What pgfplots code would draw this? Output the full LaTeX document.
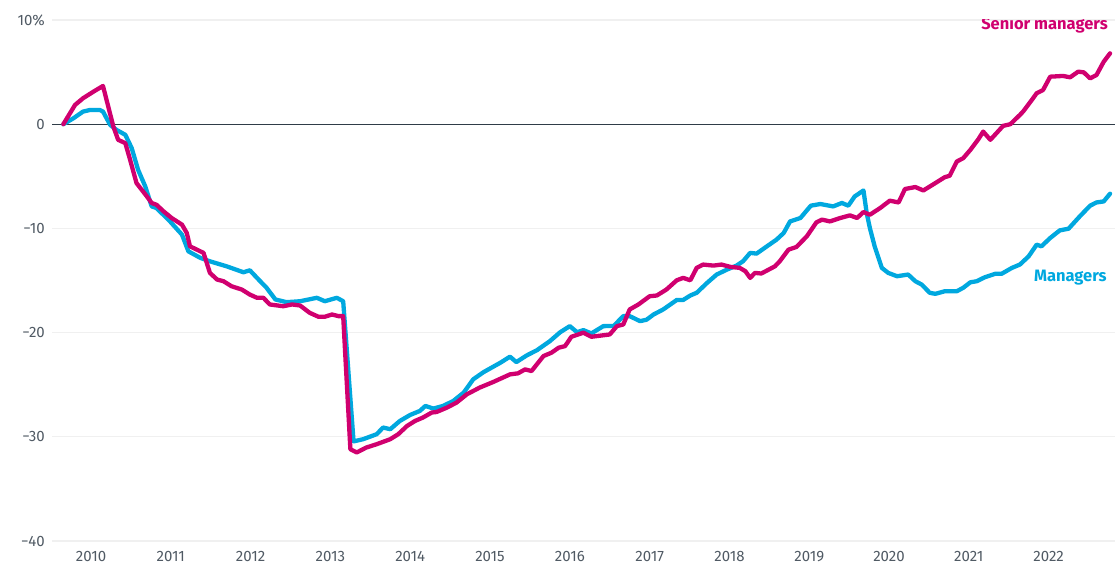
\documentclass[border=0pt]{standalone}
\usepackage{pgfplots}
\pgfplotsset{compat=1.18}
\usepackage{fontspec}
\setmainfont{Fira Sans}
\definecolor{senior}{HTML}{D0006F}
\definecolor{mgr}{HTML}{00A8DF}
\definecolor{zeroline}{HTML}{2F3C48}
\definecolor{gridc}{HTML}{F0F0F0}
\definecolor{tickc}{HTML}{505A64}
\begin{document}
\begin{tikzpicture}
\begin{axis}[
  name=ax,
  scale only axis, width=1063pt, height=521pt,
  xmin=2009.511, xmax=2022.832, ymin=-40, ymax=10,
  axis line style={draw=none},
  major tick length=0pt,
  xtick={2010,2011,2012,2013,2014,2015,2016,2017,2018,2019,2020,2021,2022},
  xticklabels={2010,2011,2012,2013,2014,2015,2016,2017,2018,2019,2020,2021,2022},
  ytick={-40,-30,-20,-10,10},
  yticklabels={−40,−30,−20,−10,10\%},
  extra y ticks={0}, extra y tick labels={0},
  extra y tick style={grid style={zeroline, line width=1.3pt}},
  ymajorgrids, grid style={gridc, line width=1.2pt},
  yticklabel style={font=\fontsize{15}{18}\selectfont, text=tickc, anchor=east, inner sep=0pt, xshift=-7pt},
  xticklabel style={font=\fontsize{15}{18}\selectfont, text=tickc, anchor=north, inner sep=0pt, yshift=-10pt},
]
\addplot[mgr, line width=4.3pt, line join=round, line cap=round] coordinates {
(2009.653,0) (2009.78,0.57) (2009.90,1.21) (2009.99,1.37) (2010.11,1.37) (2010.15,1.21)
(2010.24,-0.07) (2010.32,-0.55) (2010.43,-1.02) (2010.51,-2.30) (2010.59,-4.38) (2010.68,-5.98)
(2010.76,-7.89) (2010.82,-8.04) (2010.99,-9.33) (2011.14,-10.60) (2011.22,-12.20) (2011.37,-12.83)
(2011.49,-13.16) (2011.70,-13.64) (2011.91,-14.21) (2011.99,-14.02) (2012.10,-14.91) (2012.20,-15.70)
(2012.31,-16.82) (2012.45,-17.08) (2012.62,-16.99) (2012.83,-16.66) (2012.93,-16.99) (2013.08,-16.66)
(2013.16,-16.99) (2013.29,-30.44) (2013.41,-30.23) (2013.58,-29.75) (2013.66,-29.11) (2013.75,-29.27)
(2013.87,-28.48) (2014.00,-27.90) (2014.12,-27.52) (2014.19,-27.04) (2014.29,-27.29) (2014.41,-27.04)
(2014.54,-26.56) (2014.67,-25.76) (2014.79,-24.48) (2014.92,-23.79) (2015.13,-22.89) (2015.25,-22.31)
(2015.33,-22.83) (2015.46,-22.19) (2015.59,-21.68) (2015.75,-20.82) (2015.88,-19.96) (2016.00,-19.38)
(2016.09,-19.96) (2016.17,-19.76) (2016.27,-20.08) (2016.42,-19.38) (2016.55,-19.36) (2016.67,-18.42)
(2016.75,-18.42) (2016.88,-18.90) (2016.96,-18.77) (2017.05,-18.26) (2017.17,-17.78) (2017.34,-16.87)
(2017.42,-16.87) (2017.51,-16.44) (2017.59,-16.18) (2017.72,-15.23) (2017.84,-14.43) (2017.97,-13.95)
(2018.09,-13.57) (2018.17,-13.16) (2018.26,-12.35) (2018.34,-12.42) (2018.47,-11.72) (2018.59,-11.08)
(2018.68,-10.44) (2018.76,-9.33) (2018.89,-9.00) (2019.02,-7.82) (2019.14,-7.66) (2019.30,-7.89)
(2019.41,-7.56) (2019.49,-7.82) (2019.57,-6.93) (2019.68,-6.36) (2019.72,-8.52) (2019.76,-9.96)
(2019.82,-11.72) (2019.91,-13.79) (2019.99,-14.27) (2020.10,-14.59) (2020.24,-14.43) (2020.33,-15.07)
(2020.41,-15.39) (2020.51,-16.18) (2020.58,-16.28) (2020.70,-16.03) (2020.85,-16.03) (2020.93,-15.70)
(2021.02,-15.17) (2021.10,-15.07) (2021.20,-14.69) (2021.33,-14.36) (2021.41,-14.36) (2021.54,-13.79)
(2021.64,-13.47) (2021.75,-12.68) (2021.85,-11.56) (2021.91,-11.72) (2022.02,-10.92) (2022.14,-10.19)
(2022.25,-10.03) (2022.39,-8.85) (2022.52,-7.82) (2022.60,-7.51) (2022.69,-7.41) (2022.77,-6.67)
};
\addplot[senior, line width=4.3pt, line join=round, line cap=round] coordinates {
(2009.653,0) (2009.80,1.85) (2009.90,2.49) (2010.03,3.12) (2010.15,3.67) (2010.28,-0.23)
(2010.34,-1.50) (2010.43,-1.82) (2010.49,-3.42) (2010.57,-5.65) (2010.70,-6.93) (2010.76,-7.56)
(2010.82,-7.73) (2010.91,-8.37) (2011.01,-9.00) (2011.14,-9.64) (2011.20,-10.44) (2011.24,-11.72)
(2011.41,-12.35) (2011.49,-14.27) (2011.58,-14.91) (2011.66,-15.07) (2011.76,-15.55) (2011.89,-15.87)
(2011.99,-16.35) (2012.08,-16.66) (2012.16,-16.66) (2012.24,-17.30) (2012.41,-17.47) (2012.52,-17.30)
(2012.62,-17.40) (2012.74,-18.10) (2012.85,-18.48) (2012.93,-18.48) (2013.02,-18.26) (2013.10,-18.42)
(2013.16,-18.42) (2013.25,-31.19) (2013.33,-31.50) (2013.45,-31.03) (2013.58,-30.71) (2013.75,-30.23)
(2013.85,-29.75) (2013.96,-28.96) (2014.06,-28.48) (2014.16,-28.15) (2014.27,-27.67) (2014.33,-27.62)
(2014.46,-27.20) (2014.58,-26.72) (2014.71,-25.92) (2014.87,-25.28) (2015.04,-24.74) (2015.25,-24.01)
(2015.35,-23.91) (2015.44,-23.53) (2015.52,-23.69) (2015.67,-22.25) (2015.77,-21.93) (2015.86,-21.45)
(2015.94,-21.30) (2016.02,-20.40) (2016.17,-20.01) (2016.27,-20.40) (2016.50,-20.18) (2016.59,-19.38)
(2016.67,-19.22) (2016.75,-17.78) (2016.86,-17.30) (2017.00,-16.51) (2017.09,-16.44) (2017.21,-15.87)
(2017.34,-14.98) (2017.42,-14.75) (2017.51,-14.98) (2017.59,-13.79) (2017.67,-13.47) (2017.80,-13.57)
(2017.90,-13.47) (2018.01,-13.69) (2018.13,-13.79) (2018.20,-14.11) (2018.26,-14.75) (2018.32,-14.27)
(2018.40,-14.33) (2018.57,-13.64) (2018.63,-13.16) (2018.74,-12.04) (2018.84,-11.78) (2018.97,-10.76)
(2019.09,-9.42) (2019.16,-9.16) (2019.26,-9.33) (2019.39,-9.00) (2019.51,-8.75) (2019.60,-9.00)
(2019.68,-8.43) (2019.76,-8.69) (2019.89,-8.04) (2020.01,-7.34) (2020.12,-7.51) (2020.20,-6.22)
(2020.33,-6.03) (2020.43,-6.36) (2020.56,-5.75) (2020.70,-5.08) (2020.76,-4.95) (2020.85,-3.58)
(2020.93,-3.26) (2021.02,-2.46) (2021.12,-1.44) (2021.18,-0.71) (2021.27,-1.50) (2021.43,-0.16)
(2021.52,0) (2021.64,0.89) (2021.68,1.21) (2021.79,2.33) (2021.85,2.97) (2021.93,3.28)
(2022.02,4.56) (2022.18,4.63) (2022.27,4.50) (2022.37,5.04) (2022.44,4.98) (2022.52,4.40)
(2022.60,4.72) (2022.69,5.99) (2022.77,6.80)
};
\node[anchor=east, inner sep=0pt, text=senior, font=\fontsize{16.5}{19}\selectfont\bfseries] at (axis cs:2022.744,9.51) {Senior managers};
\node[anchor=east, inner sep=0pt, text=mgr, font=\fontsize{16.5}{19}\selectfont\bfseries] at (axis cs:2022.73,-14.75) {Managers};
\end{axis}
\pgfresetboundingbox
\path[use as bounding box] ([xshift=-52pt,yshift=-25pt]ax.south west) rectangle ([yshift=20pt]ax.north east);
\end{tikzpicture}
\end{document}
